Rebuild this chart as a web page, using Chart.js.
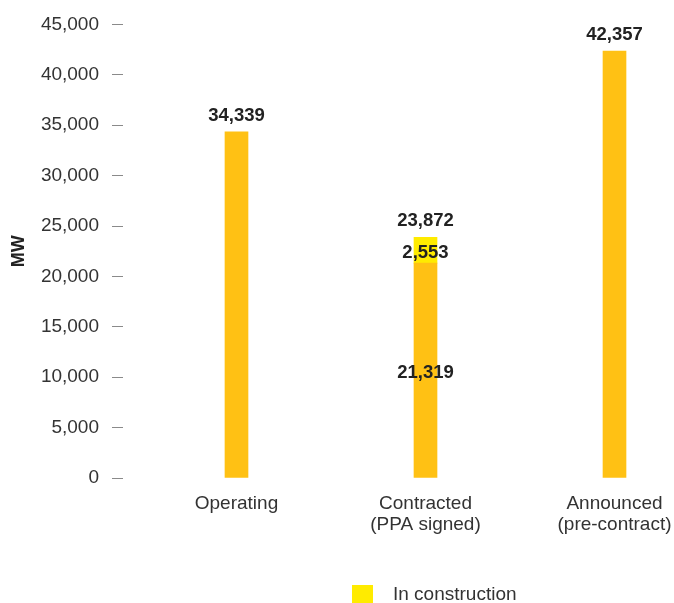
<!DOCTYPE html>
<html>
<head>
<meta charset="utf-8">
<script src="https://cdn.jsdelivr.net/npm/chart.js@4"></script>
<style>
html,body{margin:0;padding:0;background:#fff;overflow:hidden;}
#wrap{position:relative;width:674px;height:603px;}
#legend{position:absolute;left:352px;top:584px;height:19px;display:flex;align-items:center;font-family:"Liberation Sans",Arial,sans-serif;font-size:19px;color:#333;}
#legend .sw{width:21px;height:18px;background:#FFEB00;margin-right:20px;}
</style>
</head>
<body>
<div id="wrap">
<canvas id="c" width="674" height="603"></canvas>
<div id="legend"><span class="sw"></span><span>In construction</span></div>
</div>
<script>
const categories = [["Operating"], ["Contracted", "(PPA signed)"], ["Announced", "(pre-contract)"]];
const baseValues = [34339, 21319, 42357];
const constructionValues = [null, 2553, null];
const totals = [34339, 23872, 42357];
const yTicks = [0, 5000, 10000, 15000, 20000, 25000, 30000, 35000, 40000, 45000];

const ORANGE = '#FFC114';
const YELLOW = '#FFEB00';
const FONT = '"Liberation Sans", Arial, sans-serif';
const fmt = v => Number(v).toLocaleString('en-US');

const labelPlugin = {
  id: 'valueLabels',
  afterDatasetsDraw(chart) {
    const ctx = chart.ctx;
    ctx.save();
    ctx.font = 'bold 18.5px ' + FONT;
    ctx.fillStyle = '#222';
    ctx.textAlign = 'center';
    ctx.textBaseline = 'middle';
    const m0 = chart.getDatasetMeta(0);
    const m1 = chart.getDatasetMeta(1);
    const yScale = chart.scales.y;
    totals.forEach((t, i) => {
      const el = m0.data[i];
      const top = yScale.getPixelForValue(t);
      ctx.fillText(fmt(t), el.x, top - 16);
      if (constructionValues[i] != null) {
        const b = m0.data[i];
        ctx.fillText(fmt(baseValues[i]), b.x, (b.y + b.base) / 2 + 3);
        const c = m1.data[i];
        ctx.fillText(fmt(constructionValues[i]), c.x, (c.y + c.base) / 2 + 3);
      }
    });
    ctx.restore();
  }
};

new Chart(document.getElementById('c'), {
  type: 'bar',
  data: {
    datasets: [
      { label: 'Total', data: baseValues.map((v, i) => ({ x: i, y: v })), backgroundColor: ORANGE, barThickness: 23, stack: 's' },
      { label: 'In construction', data: constructionValues.map((v, i) => ({ x: i, y: v })), backgroundColor: YELLOW, barThickness: 23, stack: 's' }
    ]
  },
  options: {
    responsive: false,
    animation: false,
    layout: { padding: { top: 24, right: 0, left: 0, bottom: 0 } },
    plugins: { legend: { display: false }, tooltip: { enabled: false } },
    scales: {
      x: {
        type: 'linear',
        stacked: true,
        offset: false,
        min: -0.6005,
        max: 2.3148,
        grid: { display: false },
        border: { display: false },
        afterBuildTicks: s => { s.ticks = categories.map((c, i) => ({ value: i })); },
        afterFit: s => { s.height = 125; s.paddingLeft = 0; s.paddingRight = 0; },
        ticks: {
          autoSkip: false,
          maxRotation: 0,
          padding: 7,
          color: '#333',
          font: { family: FONT, size: 19, lineHeight: 1.12 },
          callback: v => categories[v] || ''
        }
      },
      y: {
        stacked: true,
        min: 0,
        max: 45000,
        afterBuildTicks: s => { s.ticks = yTicks.map(v => ({ value: v })); },
        afterFit: s => { s.width = 123; },
        grid: { drawOnChartArea: false, drawTicks: true, tickLength: 11, color: '#8a8a8a' },
        border: { display: false },
        title: { display: true, text: 'MW', color: '#222', font: { family: FONT, size: 18, weight: 'bold' }, padding: { top: 8, bottom: 0 } },
        ticks: { padding: 13, color: '#333', font: { family: FONT, size: 19 }, callback: v => fmt(v) }
      }
    }
  },
  plugins: [labelPlugin]
});
</script>
</body>
</html>
